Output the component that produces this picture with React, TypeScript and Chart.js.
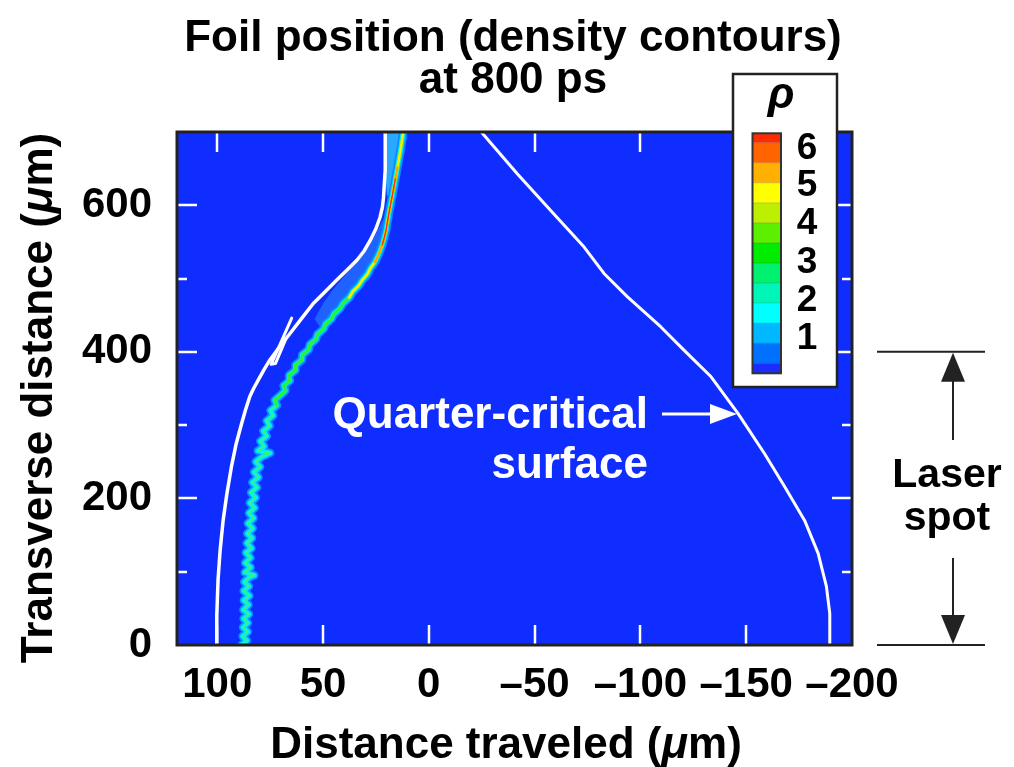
import React, { useEffect, useRef } from 'react';
import { Chart, registerables } from 'chart.js';

Chart.register(...registerables);

// ---- axes ----
const xTickValues = [100, 50, 0, -50, -100, -150, -200];
const yTickValues = [0, 200, 400, 600];
const yMinorTickValues = [100, 200, 300, 400, 500, 600];

// ---- quarter-critical surface (white, right) ----
const qcX = [-24.5, -41.8, -57.6, -73.4, -82.8, -93.9, -109.7, -120.7, -133.4, -146.1, -158.7, -168.2, -177.6, -184, -187.9, -189.5, -189.5];
const qcY = [701, 643, 593, 543, 507, 475, 434, 402, 366, 316, 261, 216, 170, 125, 80, 43, 0];

// ---- critical contour (white, left) ----
const critX = [100.4, 100.2, 99.6, 98.6, 97.2, 95.5, 93.3, 91, 88.5, 86.6, 84.6, 82.8, 80.7, 78, 75.1, 70.5, 65.6, 60, 54.6, 49, 43.5, 38.5, 34, 30.5, 27.7, 25, 23, 21.9, 21.4, 20.6, 20.6];
const critY = [0, 40, 89, 130, 170, 205, 243, 275, 302, 321, 339, 350, 361, 375, 389, 407, 425, 446, 466, 482, 498, 512, 525, 538, 552, 568, 584, 598, 611, 648, 702];

// small white fragment
const zigX = [64.8, 74.5, 72.5, 67.5];
const zigY = [446, 383, 384, 418];

// ---- foil density ridge ----
const foilX = [88.5, 86, 88, 85.5, 87.8, 85.5, 87.5, 85, 87.6, 85.2, 87.4, 84.8, 87.5, 85, 87.2, 84.6, 82.5, 87, 84.2, 86.8, 84.3, 86.5, 83.8, 86, 83.5, 85.8, 83.2, 85.5, 82.8, 85, 82.3, 84.6, 81.8, 84, 81.2, 83.4, 80.5, 82.6, 79.7, 81.8, 78.8, 75, 80.8, 77.8, 79.6, 76.6, 78.2, 75.2, 76.6, 73.6, 74.8, 71.8, 72.8,
  70.5, 67.8, 68.6, 65.6, 66, 63, 63, 60, 59.8, 56.8, 56.2, 53.4, 52.6, 49.8, 48.8, 46, 44.8, 42, 40.6, 37.6, 36, 33.2, 31.4, 29, 27.6, 25.6, 24.2, 23, 22, 21, 20.2, 19.5, 18.8, 17.8, 16.8, 15.8, 14.8, 13.8, 12.9, 12];
const foilY = [0, 6, 12, 18, 24, 30, 36, 42, 48, 55, 61, 67, 74, 80, 86, 93, 95, 99, 106, 112, 119, 126, 132, 139, 146, 152, 159, 166, 173, 180, 187, 194, 201, 208, 215, 222, 229, 236, 243, 250, 257, 262, 265, 271, 278, 285, 292, 299, 306, 313, 320, 327, 334,
  340, 347, 354, 361, 368, 375, 382, 389, 396, 403, 410, 417, 424, 431, 438, 445, 452, 459, 466, 474, 482, 490, 498, 506, 514, 522, 530, 538, 546, 556, 566, 578, 590, 605, 620, 636, 652, 668, 684, 702];

// low-density shading left of the ridge
const shadeX = [50, 54, 50, 45, 39.5, 34, 29.5, 26, 23.5, 21.5, 20.2, 21, 22, 24.2, 27.6, 31.4, 36, 40.6, 44.8, 48.8, 50];
const shadeY = [428, 445, 466, 486, 505, 523, 540, 556, 570, 582, 566, 556, 546, 530, 514, 498, 482, 466, 452, 438, 428];
const topShadeX = [20.4, 20.4, 19.8, 17.5, 16, 14.8, 13.8];
const topShadeY = [702, 640, 612, 620, 645, 670, 702];

// ---- colour bar ----
const colorbarColors = ['#ff2a00', '#ff6400', '#ffb000', '#ffff00', '#bcf000', '#5cf000', '#00ec00', '#00f070', '#00f5b8', '#00ffff', '#00b8ff', '#0070ff', '#1a2cff'];
const colorbarLabels = ['6', '5', '4', '3', '2', '1'];

const FF = '"Liberation Sans", Arial, Helvetica, sans-serif';
const bold = (n: number) => `bold ${n}px ${FF}`;
const ital = (n: number) => `italic bold ${n}px ${FF}`;
const PLOT_BG = '#0f2dff';

const pts = (xs: number[], ys: number[]) => xs.map((x, i) => ({ x, y: ys[i] }));
const rangeY = (xs: number[], ys: number[], lo: number, hi: number) =>
  pts(xs, ys).filter((p) => p.y >= lo && p.y <= hi);
const fmt = (v: number) => (v < 0 ? '\u2013' + Math.abs(v) : String(v));

type Run = { text: string; font: string };
function drawRuns(ctx: CanvasRenderingContext2D, runs: Run[], x: number, y: number, align: string) {
  let total = 0;
  const widths = runs.map((r) => {
    ctx.font = r.font;
    const w = ctx.measureText(r.text).width;
    total += w;
    return w;
  });
  let cx = align === 'center' ? x - total / 2 : align === 'right' ? x - total : x;
  ctx.textAlign = 'left';
  runs.forEach((r, i) => {
    ctx.font = r.font;
    ctx.fillText(r.text, cx, y);
    cx += widths[i];
  });
}

function arrowHead(ctx: CanvasRenderingContext2D, tx: number, ty: number, dx: number, dy: number, len: number, half: number) {
  const bx = tx - dx * len, by = ty - dy * len;
  ctx.beginPath();
  ctx.moveTo(tx, ty);
  ctx.lineTo(bx - dy * half, by + dx * half);
  ctx.lineTo(bx + dy * half, by - dx * half);
  ctx.closePath();
  ctx.fill();
}

const decorPlugin = {
  id: 'decor',
  beforeDatasetsDraw(chart: any) {
    const { ctx, chartArea: a } = chart;
    ctx.save();
    ctx.fillStyle = PLOT_BG;
    ctx.fillRect(a.left, a.top, a.right - a.left, a.bottom - a.top);
    ctx.restore();
  },
  afterDatasetDraw(chart: any, args: any) {
    const ds = chart.data.datasets[args.index];
    if (!ds.polyFill) return;
    const { ctx, chartArea: a } = chart;
    const els = args.meta.data;
    ctx.save();
    ctx.beginPath();
    ctx.rect(a.left, a.top, a.right - a.left, a.bottom - a.top);
    ctx.clip();
    ctx.beginPath();
    els.forEach((p: any, i: number) => (i === 0 ? ctx.moveTo(p.x, p.y) : ctx.lineTo(p.x, p.y)));
    ctx.closePath();
    ctx.fillStyle = ds.polyFill;
    ctx.fill();
    ctx.restore();
  },
  afterDraw(chart: any) {
    const { ctx, chartArea: a } = chart;
    const xs = chart.scales.x, ys = chart.scales.y;
    ctx.save();
    // ticks (white, inside)
    ctx.strokeStyle = '#ffffff';
    ctx.lineWidth = 2.5;
    ctx.beginPath();
    xTickValues.forEach((v) => {
      const px = Math.round(xs.getPixelForValue(v));
      if (px <= a.left + 2 || px >= a.right - 2) return;
      ctx.moveTo(px, a.bottom); ctx.lineTo(px, a.bottom - 20);
      ctx.moveTo(px, a.top); ctx.lineTo(px, a.top + 20);
    });
    yMinorTickValues.forEach((v) => {
      const py = Math.round(ys.getPixelForValue(v));
      const len = yTickValues.includes(v) ? 20 : 10;
      ctx.moveTo(a.left, py); ctx.lineTo(a.left + len, py);
      ctx.moveTo(a.right, py); ctx.lineTo(a.right - len, py);
    });
    ctx.stroke();
    // frame
    ctx.strokeStyle = '#222222';
    ctx.lineWidth = 3;
    ctx.strokeRect(a.left, a.top, a.right - a.left, a.bottom - a.top);

    ctx.textBaseline = 'alphabetic';
    ctx.fillStyle = '#000000';
    // title
    drawRuns(ctx, [{ text: 'Foil position (density contours)', font: bold(44) }], 513, 51, 'center');
    drawRuns(ctx, [{ text: 'at 800 ps', font: bold(44) }], 513, 93, 'center');
    // x title
    drawRuns(ctx, [
      { text: 'Distance traveled (', font: bold(44) },
      { text: '\u03bc', font: ital(44) },
      { text: 'm)', font: bold(44) },
    ], 506, 758, 'center');
    // y title
    ctx.save();
    ctx.translate(52, 398);
    ctx.rotate(-Math.PI / 2);
    drawRuns(ctx, [
      { text: 'Transverse distance (', font: bold(44) },
      { text: '\u03bc', font: ital(44) },
      { text: 'm)', font: bold(44) },
    ], 0, 0, 'center');
    ctx.restore();

    // quarter-critical annotation
    ctx.fillStyle = '#ffffff';
    drawRuns(ctx, [{ text: 'Quarter-critical', font: bold(44) }], 648, 428, 'right');
    drawRuns(ctx, [{ text: 'surface', font: bold(44) }], 648, 478, 'right');
    ctx.strokeStyle = '#ffffff';
    ctx.lineWidth = 3;
    ctx.beginPath();
    ctx.moveTo(662, 414); ctx.lineTo(720, 414);
    ctx.stroke();
    arrowHead(ctx, 737, 414, 1, 0, 27, 10);

    // laser spot
    const y400 = ys.getPixelForValue(400), y0 = ys.getPixelForValue(0);
    ctx.strokeStyle = '#222222';
    ctx.fillStyle = '#222222';
    ctx.lineWidth = 2;
    ctx.beginPath();
    ctx.moveTo(877, y400); ctx.lineTo(985, y400);
    ctx.moveTo(877, y0); ctx.lineTo(985, y0);
    ctx.moveTo(953, y400 + 20); ctx.lineTo(953, 440);
    ctx.moveTo(953, 558); ctx.lineTo(953, y0 - 20);
    ctx.stroke();
    arrowHead(ctx, 953, y400 + 1, 0, -1, 29, 12);
    arrowHead(ctx, 953, y0 - 1, 0, 1, 29, 12);
    ctx.fillStyle = '#000000';
    drawRuns(ctx, [{ text: 'Laser', font: bold(41) }], 947, 487, 'center');
    drawRuns(ctx, [{ text: 'spot', font: bold(41) }], 947, 530, 'center');

    // colour-bar legend
    ctx.fillStyle = '#ffffff';
    ctx.fillRect(733, 74, 104, 313);
    ctx.strokeStyle = '#222222';
    ctx.lineWidth = 2.5;
    ctx.strokeRect(733, 74, 104, 313);
    ctx.fillStyle = '#000000';
    drawRuns(ctx, [{ text: '\u03c1', font: ital(44) }], 781, 108, 'center');
    const top = 133.3, bottom = 373.3;
    const band = 20.05;
    let yy = top;
    colorbarColors.forEach((c, i) => {
      const h = i === 0 ? 9.4 : i === colorbarColors.length - 1 ? bottom - yy : band;
      ctx.fillStyle = c;
      ctx.fillRect(752.5, yy, 28.5, h);
      ctx.strokeStyle = 'rgba(0,0,0,0.15)';
      ctx.lineWidth = 1;
      ctx.beginPath(); ctx.moveTo(752.5, yy); ctx.lineTo(781, yy); ctx.stroke();
      yy += h;
    });
    ctx.strokeStyle = '#333333';
    ctx.lineWidth = 2;
    ctx.strokeRect(752.5, top, 28.5, bottom - top);
    ctx.fillStyle = '#000000';
    ctx.textBaseline = 'middle';
    const labelYs = [149, 186, 224, 263, 301, 339];
    colorbarLabels.forEach((t, i) => drawRuns(ctx, [{ text: t, font: bold(37) }], 807, labelYs[i], 'center'));
    ctx.restore();
  },
};

export default function App() {
  const ref = useRef<HTMLCanvasElement | null>(null);
  useEffect(() => {
    document.body.style.margin = '0';
    const line = (data: any[], color: string, width: number, extra: any = {}) => ({
      data, borderColor: color, borderWidth: width, showLine: true, pointRadius: 0,
      borderJoinStyle: 'round', borderCapStyle: 'round', tension: 0, fill: false, ...extra,
    });
    const poly = (data: any[], color: string) => ({
      data, showLine: false, pointRadius: 0, borderWidth: 0, polyFill: color,
    });
    const chart = new Chart(ref.current as HTMLCanvasElement, {
      type: 'scatter',
      data: {
        datasets: [
          line(pts(qcX, qcY), '#ffffff', 3),
          line(pts(critX, critY), '#ffffff', 3.5),
          line(pts(zigX, zigY), '#ffffff', 3),
          line(rangeY(foilX, foilY, 545, 640), '#ff2a00', 1.3),
          line(rangeY(foilX, foilY, 515, 665), '#ffa000', 2),
          line(rangeY(foilX, foilY, 470, 702), '#f4f000', 2.6),
          line(rangeY(foilX, foilY, 325, 702), '#2ef02e', 3),
          line(rangeY(foilX, foilY, 0, 330), '#3cf27a', 1.6),
          line(pts(foilX, foilY), '#00eaff', 5),
          line(pts(foilX, foilY), '#0a8cff', 8.5),
          poly(pts(shadeX, shadeY), '#1f62ff'),
          poly(pts(topShadeX, topShadeY), '#2aa8ff'),
        ] as any,
      },
      options: {
        animation: false,
        responsive: false,
        events: [],
        layout: { padding: { left: 0, top: 132, right: 162, bottom: 0 } },
        plugins: { legend: { display: false }, tooltip: { enabled: false }, title: { display: false } },
        scales: {
          x: {
            type: 'linear', reverse: true, min: -200, max: 119,
            grid: { display: false, drawTicks: false }, border: { display: false },
            afterBuildTicks: (s: any) => { s.ticks = xTickValues.map((v) => ({ value: v })); },
            afterFit: (s: any) => { s.height = 122; },
            ticks: { font: { family: FF, size: 42, weight: 'bold' }, color: '#000', padding: 15, maxRotation: 0, autoSkip: false, callback: (v: any) => fmt(Number(v)) },
          },
          y: {
            type: 'linear', min: 0, max: 700,
            grid: { display: false, drawTicks: false }, border: { display: false },
            afterBuildTicks: (s: any) => { s.ticks = yTickValues.map((v) => ({ value: v })); },
            afterFit: (s: any) => { s.width = 177; },
            ticks: { font: { family: FF, size: 42, weight: 'bold' }, color: '#000', padding: 25, autoSkip: false, callback: (v: any) => fmt(Number(v)) },
          },
        },
      } as any,
      plugins: [decorPlugin as any],
    });
    return () => chart.destroy();
  }, []);
  return <canvas ref={ref} width={1014} height={767} style={{ display: 'block' }} />;
}
